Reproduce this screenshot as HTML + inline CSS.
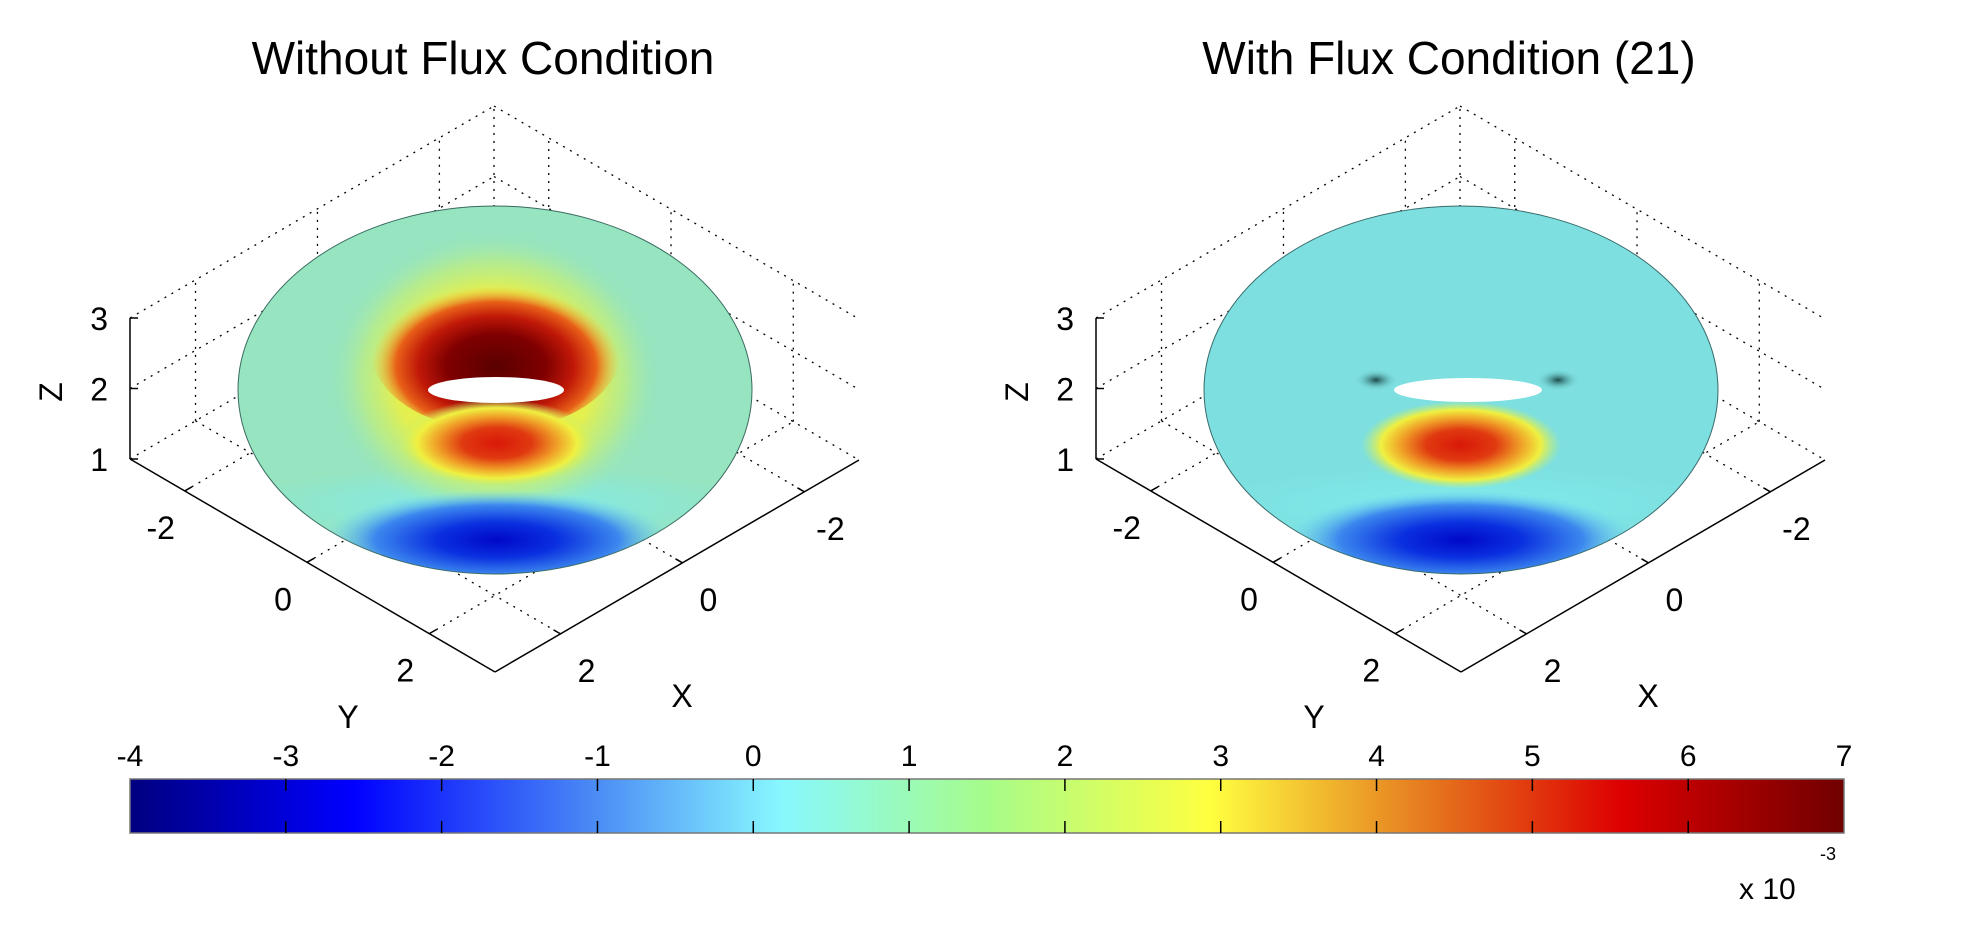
<!DOCTYPE html>
<html><head><meta charset="utf-8">
<style>html,body{margin:0;padding:0;background:#fff;}svg{display:block}</style>
</head><body>
<svg id="s" width="1966" height="926" xmlns="http://www.w3.org/2000/svg" font-family="Liberation Sans, Arial, sans-serif">
<defs>
<linearGradient id="jet" x1="0" x2="1" y1="0" y2="0">
<stop offset="0" stop-color="#000080"/><stop offset="0.13" stop-color="#0000ff"/>
<stop offset="0.27" stop-color="#4a8af5"/><stop offset="0.38" stop-color="#88f8ff"/>
<stop offset="0.5" stop-color="#a6fc8a"/><stop offset="0.63" stop-color="#ffff40"/>
<stop offset="0.75" stop-color="#e68020"/><stop offset="0.87" stop-color="#dd0000"/>
<stop offset="1" stop-color="#700000"/></linearGradient>
<radialGradient id="glowL" cx="0.5" cy="0.5" r="0.5">
<stop offset="0" stop-color="#f4f040"/><stop offset="0.6" stop-color="#e8f048" stop-opacity="0.95"/>
<stop offset="0.8" stop-color="#c8f070" stop-opacity="0.6"/>
<stop offset="1" stop-color="#a0e8b0" stop-opacity="0"/></radialGradient>
<radialGradient id="innerL" cx="0.5" cy="0.6" r="0.5">
<stop offset="0" stop-color="#5a0000"/><stop offset="0.4" stop-color="#800000"/>
<stop offset="0.62" stop-color="#c01808"/><stop offset="0.8" stop-color="#e86018"/>
<stop offset="1" stop-color="#f0d040" stop-opacity="0"/></radialGradient>
<radialGradient id="redspot" cx="0.5" cy="0.5" r="0.5">
<stop offset="0" stop-color="#d81808"/><stop offset="0.35" stop-color="#e03a10"/>
<stop offset="0.6" stop-color="#f0a028"/><stop offset="0.8" stop-color="#f0f040"/>
<stop offset="1" stop-color="#c0f070" stop-opacity="0"/></radialGradient>
<radialGradient id="bluespot" cx="0.5" cy="0.5" r="0.5">
<stop offset="0" stop-color="#0008c8"/><stop offset="0.35" stop-color="#0a30e0"/>
<stop offset="0.7" stop-color="#3c88ee"/><stop offset="1" stop-color="#70d8f0" stop-opacity="0"/></radialGradient>
<radialGradient id="band" cx="0.5" cy="0.5" r="0.5">
<stop offset="0" stop-color="#80ecec"/><stop offset="1" stop-color="#80ecec" stop-opacity="0"/></radialGradient>
<radialGradient id="darkL" cx="0.5" cy="0.5" r="0.5">
<stop offset="0" stop-color="#103838" stop-opacity="0.9"/><stop offset="1" stop-color="#7ddfe0" stop-opacity="0"/></radialGradient>
<clipPath id="cL"><ellipse cx="495" cy="390" rx="257" ry="184"/></clipPath>
<clipPath id="cR"><ellipse cx="1461" cy="390" rx="257" ry="184"/></clipPath>
</defs>
<g id="grid" fill="none" stroke="#000" stroke-width="1.3" stroke-dasharray="2,6"></g>
<g clip-path="url(#cL)">
<ellipse cx="495" cy="390" rx="257" ry="184" fill="#96e4c0"/>
<ellipse cx="495" cy="505" rx="260" ry="40" fill="url(#band)"/>
<ellipse cx="494" cy="378" rx="165" ry="145" fill="url(#glowL)"/>
<ellipse cx="496" cy="350" rx="125" ry="80" fill="url(#innerL)"/>
<ellipse cx="497" cy="443" rx="100" ry="44" fill="url(#redspot)"/>
<ellipse cx="497" cy="540" rx="175" ry="50" fill="url(#bluespot)"/>
<ellipse cx="496" cy="390" rx="68" ry="13" fill="#fff"/>
</g>
<ellipse cx="495" cy="390" rx="257" ry="184" fill="none" stroke="#3a6a60" stroke-width="1"/>
<g clip-path="url(#cR)">
<ellipse cx="1461" cy="390" rx="257" ry="184" fill="#7ddfe0"/>
<ellipse cx="1461" cy="505" rx="260" ry="40" fill="url(#band)"/>
<ellipse cx="1376" cy="380" rx="22" ry="11" fill="url(#darkL)"/>
<ellipse cx="1558" cy="380" rx="22" ry="11" fill="url(#darkL)"/>
<ellipse cx="1461" cy="445" rx="100" ry="44" fill="url(#redspot)"/>
<ellipse cx="1461" cy="540" rx="175" ry="50" fill="url(#bluespot)"/>
<ellipse cx="1468" cy="390" rx="74" ry="12" fill="#fff"/>
</g>
<ellipse cx="1461" cy="390" rx="257" ry="184" fill="none" stroke="#3a6a6a" stroke-width="1"/>
<g id="axes" stroke="#000" stroke-width="1.5" fill="none"></g>
<g id="txt" font-size="32" fill="#000"></g>
<text x="483" y="74" font-size="46" text-anchor="middle">Without Flux Condition</text>
<text x="1449" y="74" font-size="46" text-anchor="middle">With Flux Condition (21)</text>
<rect x="130" y="779" width="1714" height="54" fill="url(#jet)" stroke="#777" stroke-width="1.5"/>
<g id="cb" stroke="#000" stroke-width="1.5"></g>
<text x="1739" y="899" font-size="30">x 10</text>
<text x="1820" y="860" font-size="18">-3</text>
</svg>
<script>
var NS="http://www.w3.org/2000/svg";
function el(p,t,a,txt){var e=document.createElementNS(NS,t);for(var k in a)e.setAttribute(k,a[k]);if(txt!=null)e.textContent=txt;document.getElementById(p).appendChild(e);}
var T=[0.15,0.485,0.82];
[0,966].forEach(function(o){
 function P(a,b,z){return [130+o+365*a+364*b, 459+213*a-212*b-(z-1)*70.5];}
 function L(p,q,g){el(g,"line",{x1:p[0],y1:p[1],x2:q[0],y2:q[1]});}
 [1,2,3].forEach(function(z){L(P(0,0,z),P(0,1,z),"grid");L(P(0,1,z),P(1,1,z),"grid");});
 T.forEach(function(t){L(P(0,1-t,1),P(0,1-t,3),"grid");L(P(t,1,1),P(t,1,3),"grid");});
 L(P(0,1,1),P(0,1,3),"grid");
 T.forEach(function(t){L(P(t,0,1),P(t,1,1),"grid");L(P(0,1-t,1),P(1,1-t,1),"grid");});
 L(P(0,0,1),P(0,0,3),"axes");L(P(0,0,1),P(1,0,1),"axes");L(P(1,0,1),P(1,1,1),"axes");
 [1,2,3].forEach(function(z){var p=P(0,0,z);L(p,[p[0]+8,p[1]],"axes");
  el("txt","text",{x:p[0]-22,y:p[1]+12,"text-anchor":"end"},String(z));});
 T.forEach(function(t,i){var p=P(t,0,1);L(p,[p[0]+7,p[1]-4],"axes");
  el("txt","text",{x:p[0]-24,y:p[1]+48,"text-anchor":"middle"},["-2","0","2"][i]);
  var q=P(1,1-t,1);L(q,[q[0]-7,q[1]-4],"axes");
  el("txt","text",{x:q[0]+26,y:q[1]+48,"text-anchor":"middle"},["-2","0","2"][i]);});
 el("txt","text",{x:348+o,y:728,"text-anchor":"middle"},"Y");
 el("txt","text",{x:682+o,y:707,"text-anchor":"middle"},"X");
 el("txt","text",{x:0,y:0,"text-anchor":"middle",transform:"translate("+(62+o)+",392) rotate(-90)"},"Z");
});
for(var i=0;i<12;i++){var x=130+i*1714/11;
 if(i>0&&i<11){el("cb","line",{x1:x,y1:779,x2:x,y2:791});el("cb","line",{x1:x,y1:821,x2:x,y2:833});}
 el("txt","text",{x:x,y:766,"text-anchor":"middle","font-size":"30"},String(i-4));}
</script>
</body></html>
